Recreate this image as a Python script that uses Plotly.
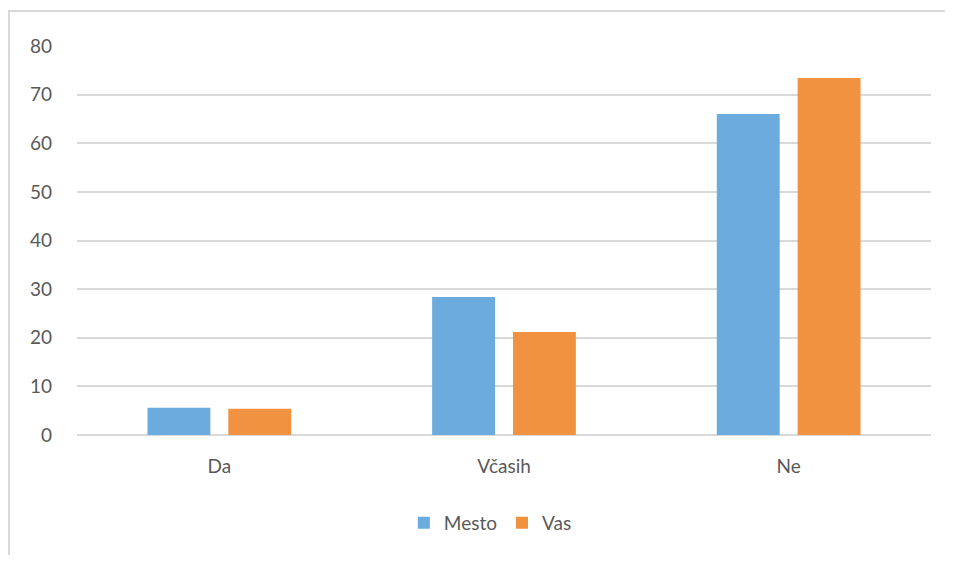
import plotly.graph_objects as go

categories = ["Da", "Včasih", "Ne"]
mesto = [5.6, 28.4, 66.0]
vas = [5.4, 21.2, 73.4]
y_ticks = [0, 10, 20, 30, 40, 50, 60, 70, 80]

font = dict(family="Lato, Open Sans, sans-serif", size=19, color="#595959")

fig = go.Figure()
fig.add_trace(go.Bar(name="Mesto", x=categories, y=mesto, marker=dict(color="#6CABDD", line=dict(width=0))))
fig.add_trace(go.Bar(name="Vas", x=categories, y=vas, marker=dict(color="#F19241", line=dict(width=0))))

fig.update_layout(
    width=937, height=547,
    margin=dict(l=69, r=14, t=38, b=120),
    paper_bgcolor="white", plot_bgcolor="white",
    barmode="group", bargap=0.432, bargroupgap=0.222,
    font=font,
    showlegend=True,
    legend=dict(orientation="h", x=0.484, xanchor="center", y=-0.226, yanchor="middle",
                font=font, itemwidth=30, traceorder="normal"),
    annotations=[dict(text=" ", xref="paper", yref="paper", x=-0.081, y=1.092,
                      xanchor="left", yanchor="top", showarrow=False,
                      width=1400, height=900, bordercolor="#d9d9d9", borderwidth=2,
                      bgcolor="rgba(0,0,0,0)")],
)
fig.update_xaxes(showgrid=False, showline=False, zeroline=False, ticks="", ticklabelstandoff=18, tickfont=font)
fig.update_yaxes(range=[0, 80], tickvals=y_ticks, showgrid=True, gridcolor="#d9d9d9", gridwidth=1.5,
                 zeroline=True, zerolinecolor="#d9d9d9", zerolinewidth=1.5, showline=False,
                 ticks="", ticklabelstandoff=24, tickfont=font)

fig.write_html("out.html")
